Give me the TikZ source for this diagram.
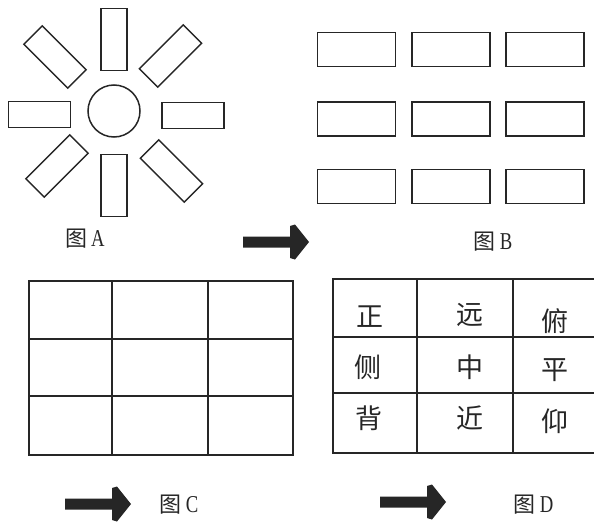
\documentclass[tikz,border=0pt]{standalone}
\usepackage{fontspec}
\newfontfamily\cjk{Noto Sans CJK SC}
\newfontfamily\latinf{Liberation Serif}
\definecolor{ink}{HTML}{262626}
\newcommand{\figlabel}[1]{{\cjk 图}\hspace{4pt}\scalebox{0.85}[1.1]{\latinf #1}}
\begin{document}
\begin{tikzpicture}[x=1pt,y=-1pt,
  line width=1.5pt,
  bar/.style={draw=ink, line width=1.5pt, minimum width=62pt, minimum height=26pt, inner sep=0pt},
  seat/.style={draw=ink, line width=1.5pt, minimum width=78pt, minimum height=34pt, inner sep=0pt},
  figcap/.style={inner sep=0pt, font=\fontsize{22pt}{24pt}\selectfont, text=ink},
  cell/.style={inner sep=0pt, font=\cjk\fontsize{27pt}{29pt}\selectfont, text=ink},
  gridline/.style={draw=ink, line width=1.5pt},
  fatarrow/.style={fill=ink, draw=none}]
\useasboundingbox (0,0) rectangle (594,522);
% ---- Figure A
\node[draw=ink, circle, minimum size=52pt, inner sep=0pt] (hub) at (114,111) {};
\node[bar, rotate=90] (aN) at (114,39.5) {};
\node[bar, rotate=90] (aS) at (114,185.5) {};
\node[bar] (aW) at (39.5,114.5) {};
\node[bar] (aE) at (193,115.5) {};
\node[bar, rotate=-45] (aNW) at (55,57) {};
\node[bar, rotate=45] (aNE) at (170.5,56) {};
\node[bar, rotate=45] (aSW) at (57,166) {};
\node[bar, rotate=-45] (aSE) at (171.5,171) {};
\node[figcap] (capA) at (85,239) {\figlabel{A}};
% ---- Figure B
\foreach \c/\x in {1/356.7,2/451,3/545}{
  \foreach \r/\y in {1/49.5,2/119,3/186.5}{
    \node[seat] (b\r\c) at (\x,\y) {};
  }
}
\node[figcap] (capB) at (493,242) {\figlabel{B}};
% ---- arrows
\coordinate (ar1) at (243,242);
\coordinate (ar2) at (65,504);
\coordinate (ar3) at (380,502);
\foreach \p in {ar1,ar2,ar3}{
  \fill[fatarrow] ([shift={(0,-5.5)}]\p) -- ++(47,0) -- ++(0,-10.5) -- ++(5,-1.5)
     -- ++(14,17.5) -- ++(-14,17.5) -- ++(-5,-1.5) -- ++(0,-10.5) -- ++(-47,0) -- cycle;
}
% ---- Figure C
\coordinate (c0) at (29,281);
\coordinate (c1) at (293,455);
\draw[gridline] (c0) rectangle (c1);
\draw[gridline] (112,281) -- (112,455);
\draw[gridline] (208,281) -- (208,455);
\draw[gridline] (29,339) -- (293,339);
\draw[gridline] (29,396) -- (293,396);
\node[figcap] (capC) at (179,505) {\figlabel{C}};
% ---- Figure D
\draw[gridline] (594,279) -- (333,279) -- (333,453) -- (594,453);
\draw[gridline] (417,279) -- (417,453);
\draw[gridline] (513,279) -- (513,453);
\draw[gridline] (333,337) -- (594,337);
\draw[gridline] (333,393) -- (594,393);
\node[cell] (d11) at (370,317) {正};
\node[cell] (d12) at (470,315) {远};
\node[cell] (d13) at (555,321.5) {俯};
\node[cell] (d21) at (368,367) {侧};
\node[cell] (d22) at (470,367) {中};
\node[cell] (d23) at (555,370) {平};
\node[cell] (d31) at (369,418) {背};
\node[cell] (d32) at (470,418) {近};
\node[cell] (d33) at (555,421.5) {仰};
\node[figcap] (capD) at (533.5,505) {\figlabel{D}};
\end{tikzpicture}
\end{document}
